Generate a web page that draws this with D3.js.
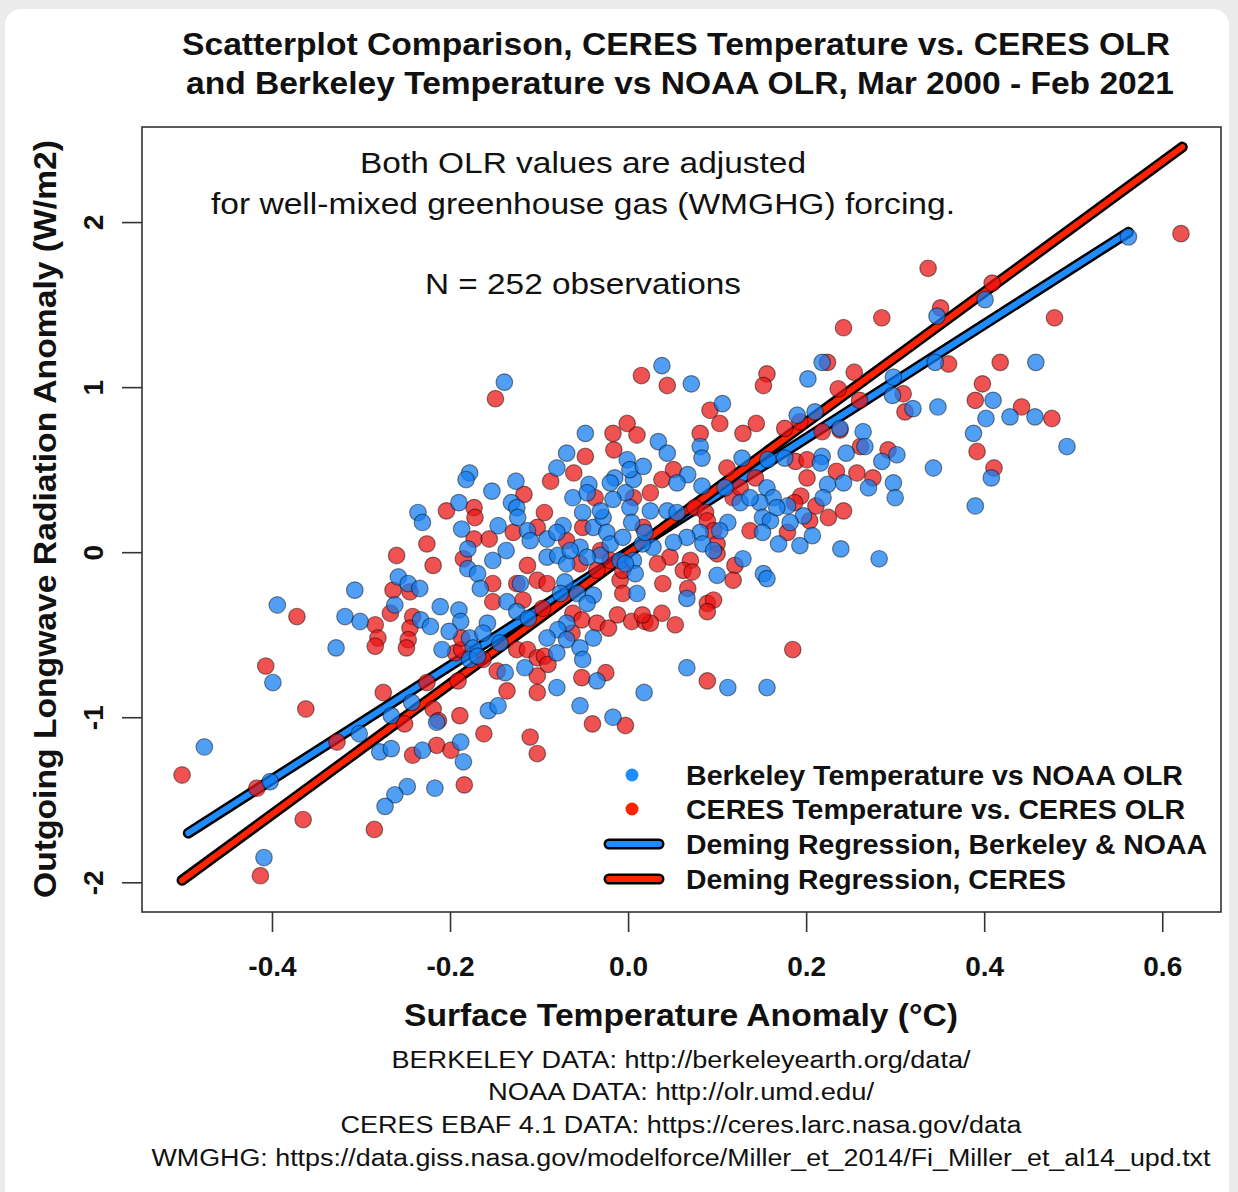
<!DOCTYPE html>
<html>
<head>
<meta charset="utf-8">
<script src="https://cdn.jsdelivr.net/npm/d3@7"></script>
<style>
  body { margin: 0; background: #ebebeb; }
  svg { display: block; font-family: "Liberation Sans", Arial, Helvetica, sans-serif; }
</style>
</head>
<body>
<div id="chart"></div>
<script>
// CERES temperature vs CERES OLR (red), [temp anomaly C, OLR anomaly W/m2]
var ceresPoints = [
  [-0.260,-0.02],[-0.219,-0.08],[-0.185,-0.04],[-0.264,-0.23],[-0.245,-0.24],[-0.372,-0.39],[-0.267,-0.37],[-0.284,-0.44],
  [-0.242,-0.39],[-0.245,-0.46],[-0.247,-0.53],[-0.249,-0.58],[-0.281,-0.52],[-0.284,-0.57],[-0.407,-0.69],[-0.194,-0.61],
  [-0.187,-0.59],[-0.163,-0.65],[-0.226,-0.79],[-0.275,-0.85],[-0.362,-0.95],[-0.219,-0.95],[-0.213,-1.02],[-0.251,-1.04],
  [-0.189,-0.99],[-0.327,-1.15],[-0.215,-1.17],[-0.199,-1.20],[-0.242,-1.23],[-0.162,-1.10],[-0.501,-1.35],[-0.417,-1.43],
  [-0.184,-1.41],[-0.365,-1.62],[-0.285,-1.68],[-0.413,-1.96],[-0.191,-0.78],
  [-0.149,0.93],[-0.017,0.72],[-0.016,0.62],[-0.048,0.58],[-0.061,0.48],[-0.087,0.43],[-0.037,0.33],[-0.117,0.35],
  [-0.204,0.25],[-0.173,0.27],[-0.172,0.21],[-0.094,0.24],[-0.051,0.15],[-0.173,0.08],[-0.156,0.08],[-0.129,0.12],
  [-0.102,0.15],[-0.069,0.07],[-0.226,0.05],[-0.113,-0.08],[-0.001,0.78],[0.010,0.71],
  [-0.152,-0.19],[-0.102,-0.17],[-0.091,-0.19],[-0.009,-0.17],[-0.006,-0.25],[-0.152,-0.30],[-0.118,-0.29],[-0.096,-0.34],
  [-0.062,-0.37],[-0.052,-0.41],[-0.035,-0.43],[-0.022,-0.46],[-0.012,-0.38],[0.004,-0.42],[0.019,-0.42],[-0.063,-0.49],
  [-0.125,-0.59],[-0.113,-0.59],[-0.102,-0.64],[-0.094,-0.63],[-0.090,-0.68],[-0.147,-0.72],[-0.102,-0.75],[-0.136,-0.84],
  [-0.102,-0.85],[-0.052,-0.76],[-0.025,-0.73],[-0.040,-1.04],[-0.003,-1.05],[-0.110,-1.12],[-0.102,-1.22],
  [-0.125,-0.19],[-0.054,-0.07],[-0.187,-0.52],
  [0.015,1.07],[0.044,1.01],[0.156,1.08],[0.152,1.01],[0.092,0.86],[0.103,0.78],[0.129,0.72],[0.144,0.78],
  [0.081,0.72],[0.111,0.51],[0.143,0.45],[0.188,0.55],[0.201,0.56],[0.201,0.45],[0.176,0.75],[0.193,0.79],
  [0.051,0.50],[0.038,0.44],[0.025,0.36],[0.006,0.33],[0.194,0.34],[0.187,0.30],[0.211,0.28],[0.225,0.21],
  [0.204,0.19],[0.137,0.13],[0.179,0.12],[0.075,0.27],[0.087,0.24],[0.089,0.19],[0.096,0.13],[0.100,0.05],
  [0.100,-0.01],[0.120,-0.08],[0.118,-0.17],[0.185,-0.59],[0.089,-0.78],[0.089,-0.31],[0.096,-0.29],[0.089,-0.36],
  [0.053,-0.44],[0.038,-0.37],[0.025,-0.43],[0.016,-0.38],[0.039,-0.19],[0.067,-0.22],[0.070,-0.05],[0.062,-0.11],
  [0.072,-0.12],[0.047,-0.03],[0.033,-0.07],[0.017,0.15],[-0.031,0.01],[-0.035,-0.11],[-0.020,-0.05],[-0.006,-0.11],
  [0.118,0.33],[0.126,0.39],
  [0.337,1.72],[0.409,1.63],[0.351,1.48],[0.479,1.42],[0.285,1.42],[0.242,1.36],[0.418,1.15],[0.360,1.14],
  [0.224,1.15],[0.254,1.09],[0.398,1.02],[0.390,0.92],[0.236,0.99],[0.260,0.92],[0.309,0.96],[0.311,0.85],
  [0.442,0.88],[0.476,0.81],[0.392,0.61],[0.411,0.51],[0.218,0.73],[0.238,0.74],[0.292,0.62],[0.234,0.49],
  [0.257,0.48],[0.275,0.45],[0.242,0.25],[0.621,1.93],[0.261,0.64]
];

// Berkeley temperature vs NOAA OLR (blue)
var berkeleyPoints = [
  [-0.180,-0.10],[-0.169,-0.13],[-0.258,-0.15],[-0.307,-0.23],[-0.247,-0.19],[-0.234,-0.22],[-0.394,-0.32],[-0.318,-0.39],
  [-0.301,-0.42],[-0.262,-0.32],[-0.211,-0.33],[-0.190,-0.35],[-0.188,-0.42],[-0.233,-0.41],[-0.222,-0.45],[-0.201,-0.48],
  [-0.178,-0.52],[-0.328,-0.58],[-0.209,-0.59],[-0.174,-0.58],[-0.399,-0.79],[-0.243,-0.91],[-0.266,-0.99],[-0.302,-1.10],
  [-0.476,-1.18],[-0.279,-1.21],[-0.266,-1.19],[-0.231,-1.20],[-0.188,-1.15],[-0.185,-1.27],[-0.402,-1.39],[-0.248,-1.42],
  [-0.262,-1.47],[-0.273,-1.54],[-0.217,-1.43],[-0.409,-1.85],[-0.215,-1.03],
  [-0.139,1.03],[-0.048,0.72],[-0.069,0.60],[-0.080,0.51],[-0.178,0.48],[-0.182,0.44],[-0.126,0.43],[-0.153,0.37],
  [-0.044,0.41],[-0.062,0.33],[-0.190,0.30],[-0.131,0.30],[-0.125,0.27],[-0.124,0.21],[-0.236,0.24],[-0.231,0.18],
  [-0.051,0.24],[-0.073,0.16],[-0.146,0.16],[-0.113,0.13],[-0.110,0.07],[-0.091,0.08],[-0.080,0.12],[-0.187,0.14],
  [-0.137,0.01],[-0.180,0.02],[-0.152,-0.05],[-0.054,0.03],[-0.091,-0.03],[-0.079,-0.02],[-0.069,-0.07],
  [-0.001,0.56],[-0.015,0.45],[0.006,0.44],[-0.046,0.36],[-0.003,0.36],[-0.017,0.32],[0.002,0.27],[-0.039,0.15],
  [-0.028,0.21],[-0.024,0.12],[-0.031,-0.02],[-0.009,-0.05],[0.006,-0.05],[0.008,-0.13],
  [-0.166,-0.22],[-0.121,-0.19],[-0.071,-0.18],[-0.057,-0.25],[-0.039,-0.26],[-0.046,-0.31],[-0.076,-0.25],[-0.136,-0.30],
  [-0.125,-0.36],[-0.112,-0.40],[0.010,-0.25],[-0.158,-0.43],[-0.163,-0.49],[-0.069,-0.43],[-0.079,-0.47],[-0.069,-0.53],
  [-0.039,-0.52],[-0.054,-0.58],[-0.091,-0.52],[-0.144,-0.55],[-0.080,-0.61],[-0.051,-0.65],[-0.178,-0.65],[-0.169,-0.63],
  [-0.116,-0.70],[-0.138,-0.73],[-0.080,-0.82],[-0.054,-0.93],[-0.035,-0.78],[0.018,-0.85],[-0.017,-1.00],[-0.157,-0.96],
  [-0.146,-0.93],
  [0.038,1.13],[0.071,1.02],[0.202,1.05],[0.218,1.15],[0.106,0.90],[0.190,0.83],[0.210,0.85],[0.034,0.67],
  [0.044,0.60],[0.081,0.64],[0.083,0.57],[0.128,0.57],[0.157,0.56],[0.218,0.58],[0.002,0.50],[0.017,0.52],
  [0.067,0.47],[0.055,0.42],[0.083,0.40],[-0.020,0.42],[0.025,0.25],[0.044,0.25],[0.055,0.24],[0.156,0.39],
  [0.163,0.33],[0.148,0.30],[0.179,0.28],[0.197,0.22],[0.151,0.21],[0.160,0.19],[0.151,0.12],[0.169,0.05],
  [0.193,0.04],[0.207,0.10],[0.182,0.18],[0.112,0.18],[0.103,0.13],[0.081,0.12],[0.084,0.05],[0.066,0.09],
  [0.129,-0.04],[0.100,-0.14],[0.152,-0.13],[0.156,-0.16],[0.066,-0.70],[0.112,-0.82],[0.156,-0.82],[0.066,-0.28],
  [-0.003,-0.07],[0.028,0.03],[0.016,0.05],[0.019,0.12],[0.096,0.01],[0.051,0.06],[-0.046,-0.03],[-0.065,0.01],
  [-0.020,0.05],[-0.006,0.09],[0.004,0.18],[-0.031,0.25],[0.109,0.39],[0.126,0.30],[0.137,0.33],[0.167,0.27],
  [0.401,1.53],[0.347,1.43],[0.458,1.15],[0.345,1.15],[0.298,1.06],[0.410,0.92],[0.297,0.95],[0.320,0.87],
  [0.348,0.88],[0.429,0.82],[0.457,0.82],[0.402,0.81],[0.388,0.72],[0.493,0.64],[0.408,0.45],[0.343,0.51],
  [0.390,0.28],[0.264,0.73],[0.266,0.64],[0.302,0.59],[0.285,0.55],[0.245,0.60],[0.216,0.54],[0.176,0.57],
  [0.242,0.42],[0.224,0.41],[0.270,0.39],[0.298,0.42],[0.300,0.33],[0.219,0.33],[0.239,0.02],[0.282,-0.04],
  [0.562,1.91],[0.238,0.75]
];

// Deming regression fits: intercept, slope, x range
var berkeleyFit = { intercept: 0.001, slope: 3.447, xFrom: -0.494, xTo: 0.562 };
var ceresFit = { intercept: -0.007, slope: 3.954, xFrom: -0.501, xTo: 0.6225 };

var xTicks = [-0.4, -0.2, 0.0, 0.2, 0.4, 0.6];
var yTicks = [-2, -1, 0, 1, 2];

var titleLines = [
  "Scatterplot Comparison, CERES Temperature vs. CERES OLR",
  "and Berkeley Temperature vs NOAA OLR, Mar 2000 - Feb 2021"
];
var noteLines = [
  "Both OLR values are adjusted",
  "for well-mixed greenhouse gas (WMGHG) forcing.",
  "N = 252 observations"
];
var sourceLines = [
  "BERKELEY DATA: http://berkeleyearth.org/data/",
  "NOAA DATA: http://olr.umd.edu/",
  "CERES EBAF 4.1 DATA: https://ceres.larc.nasa.gov/data",
  "WMGHG: https://data.giss.nasa.gov/modelforce/Miller_et_2014/Fi_Miller_et_al14_upd.txt"
];
var legendLabels = [
  "Berkeley Temperature vs NOAA OLR",
  "CERES Temperature vs. CERES OLR",
  "Deming Regression, Berkeley & NOAA",
  "Deming Regression, CERES"
];

var width = 1238,
    height = 1192;

var blue = "#1e8cff",
    red = "#ff2200";

var svg = d3.select("#chart").append("svg")
    .attr("width", width)
    .attr("height", height);

// white card on grey page
svg.append("rect")
    .attr("x", 5).attr("y", 9)
    .attr("width", 1224).attr("height", 1210)
    .attr("rx", 16)
    .attr("fill", "#fff");

var plot = { left: 142, right: 1221, top: 127, bottom: 912 };

var x = d3.scaleLinear().domain([-0.546, 0.666]).range([plot.left, plot.right]);
var y = d3.scaleLinear().domain([-2.18, 2.576]).range([plot.bottom, plot.top]);

function addText(str, cx, cy, size, weight, len, anchor) {
    return svg.append("text")
        .attr("x", cx).attr("y", cy)
        .attr("text-anchor", anchor || "middle")
        .attr("font-size", size)
        .attr("font-weight", weight)
        .attr("textLength", len)
        .attr("lengthAdjust", "spacingAndGlyphs")
        .attr("fill", "#111")
        .text(str);
}

// titles
addText(titleLines[0], 676, 55, 31, "bold", 988);
addText(titleLines[1], 680, 94, 31, "bold", 988);

// regression lines
var line = d3.line().x(function(d) { return x(d[0]); }).y(function(d) { return y(d[1]); });
function fitPoints(f) {
    return [[f.xFrom, f.intercept + f.slope * f.xFrom], [f.xTo, f.intercept + f.slope * f.xTo]];
}
[[berkeleyFit, blue], [ceresFit, red]].forEach(function(p) {
    svg.append("path").attr("d", line(fitPoints(p[0])))
        .attr("stroke", "#000").attr("stroke-width", 11).attr("stroke-linecap", "round").attr("fill", "none");
    svg.append("path").attr("d", line(fitPoints(p[0])))
        .attr("stroke", p[1]).attr("stroke-width", 6).attr("stroke-linecap", "round").attr("fill", "none");
});

// points, red underneath blue
function drawPoints(data, fill) {
    svg.append("g").selectAll("circle")
        .data(data)
        .enter().append("circle")
            .attr("cx", function(d) { return x(d[0]); })
            .attr("cy", function(d) { return y(d[1]); })
            .attr("r", 8.3)
            .attr("fill", fill)
            .attr("stroke", "rgba(0,0,0,0.45)")
            .attr("stroke-width", 1.2);
}
drawPoints(ceresPoints, "rgba(235,20,20,0.74)");
drawPoints(berkeleyPoints, "rgba(20,125,240,0.74)");

// notes inside plot
addText(noteLines[0], 583, 173, 29, "normal", 446);
addText(noteLines[1], 583, 214, 29, "normal", 744);
addText(noteLines[2], 583, 294, 29, "normal", 316);

// legend
svg.append("rect")
    .attr("x", 600).attr("y", 746)
    .attr("width", plot.right - 600).attr("height", plot.bottom - 746)
    .attr("fill", "#fff");
var legendY = [775, 809, 844, 879];
svg.append("circle").attr("cx", 632).attr("cy", legendY[0]).attr("r", 6.5).attr("fill", blue);
svg.append("circle").attr("cx", 632).attr("cy", legendY[1]).attr("r", 6.5).attr("fill", red);
[[legendY[2], blue], [legendY[3], red]].forEach(function(p) {
    svg.append("line").attr("x1", 609).attr("x2", 659).attr("y1", p[0]).attr("y2", p[0])
        .attr("stroke", "#000").attr("stroke-width", 11).attr("stroke-linecap", "round");
    svg.append("line").attr("x1", 609).attr("x2", 659).attr("y1", p[0]).attr("y2", p[0])
        .attr("stroke", p[1]).attr("stroke-width", 6).attr("stroke-linecap", "round");
});
var legendLen = [497, 499, 521, 380];
legendLabels.forEach(function(t, i) {
    addText(t, 686, legendY[i] + 10, 27, "bold", legendLen[i], "start");
});

// plot box
svg.append("rect")
    .attr("x", plot.left).attr("y", plot.top)
    .attr("width", plot.right - plot.left).attr("height", plot.bottom - plot.top)
    .attr("fill", "none").attr("stroke", "#333").attr("stroke-width", 1.6);

// axes
var xAxis = svg.append("g")
    .attr("transform", "translate(0," + plot.bottom + ")")
    .call(d3.axisBottom(x).tickValues(xTicks).tickSize(20).tickPadding(24)
        .tickFormat(function(d) { return d.toFixed(1); }));
xAxis.select(".domain").remove();
xAxis.selectAll(".tick line").attr("stroke", "#333").attr("stroke-width", 1.6);
xAxis.selectAll(".tick text")
    .attr("font-size", 28).attr("font-weight", "bold").attr("fill", "#111")
    .attr("font-family", "'Liberation Sans', Arial, sans-serif");

var yAxis = svg.append("g")
    .attr("transform", "translate(" + plot.left + ",0)")
    .call(d3.axisLeft(y).tickValues(yTicks).tickSize(20)
        .tickFormat(function(d) { return String(d); }));
yAxis.select(".domain").remove();
yAxis.selectAll(".tick line").attr("stroke", "#333").attr("stroke-width", 1.6);
yAxis.selectAll(".tick text")
    .attr("transform", "rotate(-90)")
    .attr("x", 0).attr("y", -39).attr("dy", 0)
    .attr("text-anchor", "middle")
    .attr("font-size", 28).attr("font-weight", "bold").attr("fill", "#111")
    .attr("font-family", "'Liberation Sans', Arial, sans-serif");

// axis titles
addText("Surface Temperature Anomaly (\u00B0C)", 681, 1026, 31, "bold", 554);
addText("Outgoing Longwave Radiation Anomaly (W/m2)", 0, 0, 31, "bold", 758)
    .attr("transform", "translate(56,519) rotate(-90)");

// data sources
var sourceLen = [579, 386, 681, 1059];
var sourceY = [1068, 1100, 1133, 1166];
sourceLines.forEach(function(t, i) {
    addText(t, 681, sourceY[i], 23, "normal", sourceLen[i]);
});
</script>
</body>
</html>
